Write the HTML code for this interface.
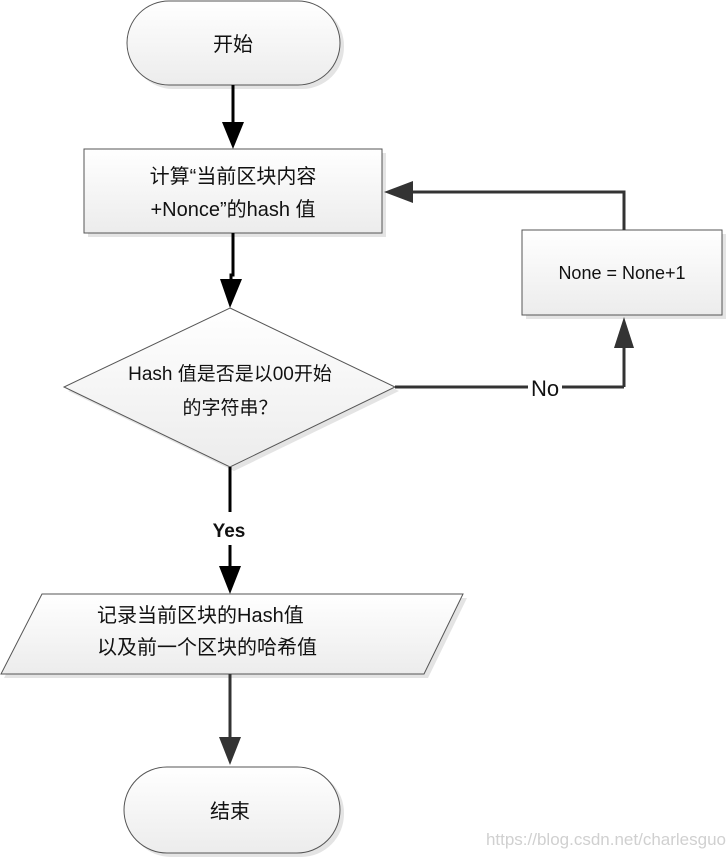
<!DOCTYPE html>
<html><head><meta charset="utf-8"><style>
html,body{margin:0;padding:0;background:#fff;}
svg{display:block;}
text{font-family:"Liberation Sans","Noto Sans CJK SC",sans-serif;fill:#111;}
</style></head><body>
<svg width="728" height="859" viewBox="0 0 728 859" xmlns="http://www.w3.org/2000/svg">
<defs>
<linearGradient id="g" x1="0" y1="0" x2="0" y2="1"><stop offset="0" stop-color="#ffffff"/><stop offset="1" stop-color="#ececec"/></linearGradient>
</defs>
<!-- shadows -->
<g fill="#d8d8d8" opacity="0.7">
<rect x="131" y="4" width="213" height="85" rx="42"/>
<rect x="88" y="153" width="298" height="84"/>
<rect x="526" y="234" width="200" height="85"/>
<polygon points="234,312 399,391 234,471 68,391"/>
<polygon points="46,598 467,598 428,678 4,678"/>
<rect x="128" y="770" width="216" height="87" rx="43"/>
</g>
<!-- start -->
<rect x="127" y="1" width="213" height="84" rx="42" fill="url(#g)" stroke="#555" stroke-width="1"/>
<text x="233" y="51" font-size="20" text-anchor="middle">开始</text>
<!-- arrow 1 -->
<line x1="233" y1="85" x2="233" y2="125" stroke="#000" stroke-width="3"/>
<polygon points="222,122 244,122 233,149" fill="#000"/>
<!-- process -->
<rect x="84" y="149" width="298" height="84" fill="url(#g)" stroke="#555" stroke-width="1"/>
<text x="233" y="183" font-size="20" text-anchor="middle">计算“当前区块内容</text>
<text x="233" y="216" font-size="20" text-anchor="middle">+Nonce”的hash 值</text>
<!-- arrow 2 -->
<polyline points="233,233 233,275 231,275 231,282" fill="none" stroke="#000" stroke-width="3"/>
<polygon points="220,279 242,279 230,308" fill="#000"/>
<!-- diamond -->
<polygon points="230,308 395,387 230,467 64,387" fill="url(#g)" stroke="#555" stroke-width="1"/>
<text x="230" y="380" font-size="19" text-anchor="middle">Hash 值是否是以00开始</text>
<text x="230" y="414" font-size="19" text-anchor="middle">的字符串？</text>
<!-- No branch -->
<line x1="395" y1="387" x2="528" y2="387" stroke="#333" stroke-width="3"/>
<line x1="562" y1="387" x2="624" y2="387" stroke="#333" stroke-width="3"/>
<line x1="624" y1="387" x2="624" y2="345" stroke="#333" stroke-width="3"/>
<polygon points="614,348 634,348 624,317" fill="#333"/>
<text x="545" y="396" font-size="22" text-anchor="middle">No</text>
<!-- loop box -->
<rect x="522" y="230" width="200" height="85" fill="url(#g)" stroke="#555" stroke-width="1"/>
<text x="622" y="279" font-size="18" text-anchor="middle">None = None+1</text>
<!-- loop back -->
<polyline points="624,230 624,192 410,192" fill="none" stroke="#333" stroke-width="3"/>
<polygon points="413,181 413,203 384,192" fill="#333"/>
<!-- Yes -->
<line x1="230" y1="467" x2="230" y2="512" stroke="#000" stroke-width="3"/>
<text x="229" y="537" font-size="19" font-weight="bold" text-anchor="middle">Yes</text>
<line x1="230" y1="545" x2="230" y2="570" stroke="#000" stroke-width="3"/>
<polygon points="219,566 241,566 230,594" fill="#000"/>
<!-- parallelogram -->
<polygon points="42,594 463,594 424,674 1,674" fill="url(#g)" stroke="#555" stroke-width="1"/>
<text x="97" y="622" font-size="20">记录当前区块的Hash值</text>
<text x="97" y="654" font-size="20">以及前一个区块的哈希值</text>
<!-- arrow to end -->
<line x1="230" y1="674" x2="230" y2="740" stroke="#333" stroke-width="3"/>
<polygon points="219,737 241,737 230,765" fill="#333"/>
<!-- end -->
<rect x="124" y="767" width="216" height="86" rx="43" fill="url(#g)" stroke="#555" stroke-width="1"/>
<text x="230" y="818" font-size="20" text-anchor="middle">结束</text>
<!-- watermark -->
<text x="726" y="845" font-size="17" text-anchor="end" style="fill:#d0d0d0">https://blog.csdn.net/charlesguo</text>
</svg>
</body></html>
